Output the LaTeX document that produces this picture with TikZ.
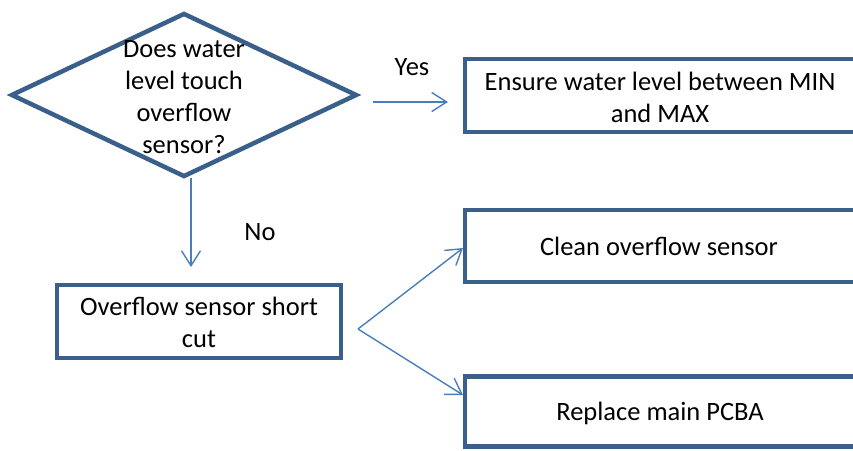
\documentclass[tikz,border=0pt]{standalone}
\usepackage{fontspec}
\setmainfont{Carlito}
\usetikzlibrary{shapes.geometric,arrows.meta}
\definecolor{boxblue}{RGB}{58,95,139}
\definecolor{arrowblue}{RGB}{74,126,187}
\tikzset{
  txt/.style={font=\fontsize{26.5}{32}\selectfont, align=center, text=black, inner sep=0pt},
  flowbox/.style={draw=boxblue, line width=4.5pt, rectangle, inner sep=0pt, fill=none},
  conn/.style={draw=arrowblue, line width=1.4pt, -{Straight Barb[length=15pt,width=19pt,line width=1.4pt]}},
  plainconn/.style={draw=arrowblue, line width=1.4pt}
}
\begin{document}
\begin{tikzpicture}[x=1pt,y=-1pt]
\useasboundingbox (0,0) rectangle (853,450);
\clip (0,0) rectangle (853,450);
% decision diamond
\node[draw=boxblue, line width=4.5pt, diamond, minimum width=346pt, minimum height=164pt, inner sep=0pt] (dia) at (184,95) {};
\node[txt] (diatext) at (184,97) {Does water\\level touch\\overflow\\sensor?};
% boxes
\node[flowbox, minimum width=392pt, minimum height=73pt] (ensure) at (661,95.5) {};
\node[txt] (ensuretext) at (660,97) {Ensure water level between MIN\\and MAX};
\node[flowbox, minimum width=284pt, minimum height=73pt] (short) at (199,321.5) {};
\node[txt] (shorttext) at (199,322) {Overflow sensor short\\cut};
\node[flowbox, minimum width=392pt, minimum height=72pt] (clean) at (661,246) {};
\node[txt] (cleantext) at (659,246) {Clean overflow sensor};
\node[flowbox, minimum width=392pt, minimum height=70pt] (pcba) at (661,411.5) {};
\node[txt] (pcbatext) at (660,413) {Replace main PCBA};
% labels
\node[txt] (yes) at (412,67) {Yes};
\node[txt] (no) at (260,232) {No};
% connector end points
\coordinate (yesstart) at (373,102);
\coordinate (yesend) at (448,102);
\coordinate (nostart) at (191,178);
\coordinate (noend) at (191,267);
\coordinate (branch) at (358,329);
\coordinate (cleanend) at (463,248);
\coordinate (pcbaend) at (463,395);
% connectors
\draw[conn] (yesstart) -- (yesend);
\draw[conn] (nostart) -- (noend);
\draw[conn] (branch) -- (cleanend);
\draw[conn] (branch) -- (pcbaend);
\end{tikzpicture}
\end{document}
